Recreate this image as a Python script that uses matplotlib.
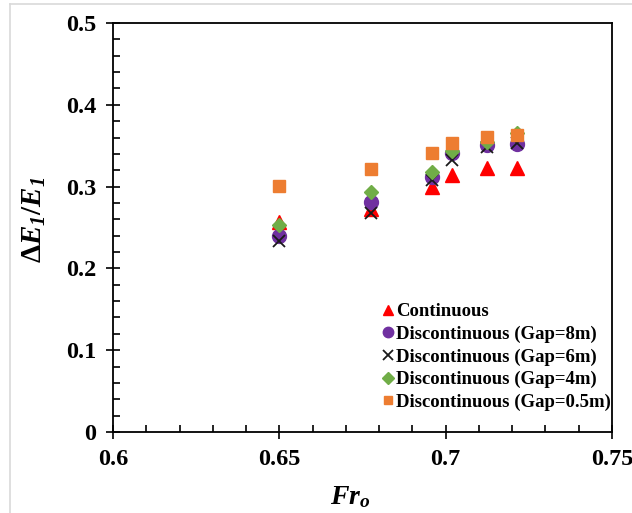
import matplotlib
matplotlib.use("Agg")
import matplotlib.pyplot as plt
from matplotlib.ticker import MultipleLocator, FormatStrFormatter
from matplotlib.lines import Line2D

plt.rcParams['font.family'] = 'Liberation Serif'
plt.rcParams['font.weight'] = 'bold'
plt.rcParams['mathtext.fontset'] = 'custom'
plt.rcParams['mathtext.rm'] = 'Liberation Serif:bold'
plt.rcParams['mathtext.it'] = 'Liberation Serif:italic:bold'
plt.rcParams['mathtext.bf'] = 'Liberation Serif:bold'
plt.rcParams['mathtext.sf'] = 'Liberation Serif:italic:bold'   # used for italic digits

# Froude numbers
fr = [0.65, 0.6775, 0.696, 0.702, 0.7124, 0.7214]

# dE1/E1 per configuration
continuous = [0.257, 0.273, 0.300, 0.314, 0.323, 0.323]
gap8 = [0.240, 0.281, 0.312, 0.341, 0.351, 0.352]
gap6 = [0.234, 0.268, 0.308, 0.333, 0.348, 0.353]
gap4 = [0.253, 0.293, 0.318, 0.344, 0.355, 0.365]
gap05 = [0.301, 0.321, 0.341, 0.353, 0.361, 0.363]

labels = ["Continuous", "Discontinuous (Gap=8m)", "Discontinuous (Gap=6m)",
          "Discontinuous (Gap=4m)", "Discontinuous (Gap=0.5m)"]

fig = plt.figure(figsize=(6.32, 5.13), dpi=100)
ax = fig.add_axes([113/632, 1-432/513, (612-113)/632, (432-23)/513])

# light gray frame around the picture
fig.add_artist(Line2D([10/632, 10/632], [0, 1-4/513], color='#d9d9d9', lw=1.2, transform=fig.transFigure))
fig.add_artist(Line2D([10/632, 1], [1-4/513, 1-4/513], color='#d9d9d9', lw=1.2, transform=fig.transFigure))

ax.plot(fr, continuous, '^', color='#ff0000', ms=10, ls='none', label=labels[0])
ax.plot(fr, gap8, 'o', color='#7030a0', ms=10, ls='none', label=labels[1])
ax.plot(fr, gap6, 'x', color='#1a1a1a', ms=9, mew=1.3, ls='none', label=labels[2])
ax.plot(fr, gap4, 'D', color='#70ad47', ms=7.5, ls='none', label=labels[3])
ax.plot(fr, gap05, 's', color='#ed7d31', ms=8.5, ls='none', label=labels[4])

ax.set_xlim(0.6, 0.75)
ax.set_ylim(0, 0.5)
ax.xaxis.set_major_locator(MultipleLocator(0.05))
ax.xaxis.set_minor_locator(MultipleLocator(0.01))
ax.yaxis.set_major_locator(MultipleLocator(0.1))
ax.yaxis.set_minor_locator(MultipleLocator(0.02))
ax.xaxis.set_major_formatter(FormatStrFormatter('%g'))
ax.yaxis.set_major_formatter(FormatStrFormatter('%g'))
ax.tick_params(which='major', direction='inout', length=10, width=1.2, labelsize=17.5, pad=7)
ax.tick_params(which='minor', direction='in', length=5, width=1.2)
for s in ax.spines.values():
    s.set_linewidth(1.3)

ax.set_xlabel(r'$Fr_{o}$', fontsize=20)
ax.set_ylabel(r'$\Delta E_{\mathsf{1}}/E_{\mathsf{1}}$', fontsize=21)
ax.xaxis.set_label_coords(0.475, -0.128)
ax.yaxis.set_label_coords(-0.131, 0.518)

leg = ax.legend(loc='lower right', bbox_to_anchor=(1.024, 0.02), frameon=False,
                markerscale=0.75, handlelength=0.6, handletextpad=0.15,
                labelspacing=0.28, borderaxespad=0.3,
                prop={'weight': 'bold', 'size': 13.5})

fig.savefig('out.png', dpi=100)
